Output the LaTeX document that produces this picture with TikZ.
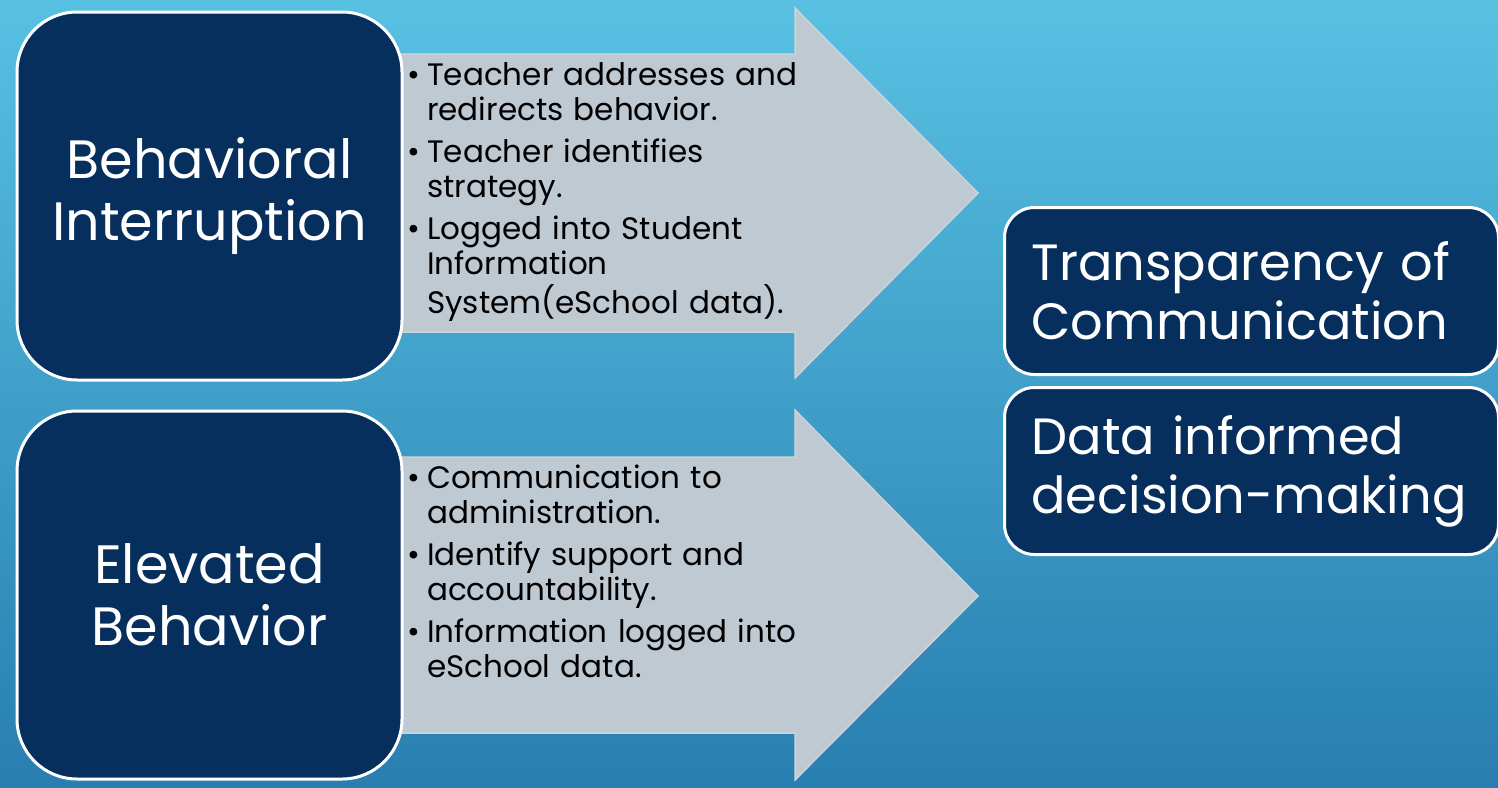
\documentclass[tikz,border=0pt]{standalone}
\usepackage{fontspec}
\setmainfont{Poppins}
\usepackage{xcolor}
\usepackage{tikz}

\definecolor{navy}{RGB}{6,47,94}
\definecolor{arrowgrey}{RGB}{191,201,210}
\definecolor{arrowedge}{RGB}{203,211,219}
\definecolor{bgtop}{RGB}{88,193,226}
\definecolor{bgbottom}{RGB}{40,126,176}

\newcommand{\point}[1]{\noindent\makebox[20pt][l]{\textbullet}\begin{tabular}[t]{@{}l@{}}#1\end{tabular}\par}

\begin{document}
\begin{tikzpicture}[x=1pt, y=-1pt,
	bigbox/.style={fill=navy, draw=white, line width=3pt, rounded corners=60pt, text=white, align=center,
		minimum width=385pt, minimum height=368pt, font=\fontsize{54}{62}\selectfont},
	smallbox/.style={fill=navy, draw=white, line width=3pt, rounded corners=30pt, text=white, align=left,
		text width=440pt, inner xsep=27pt, minimum height=167pt, anchor=north west, font=\fontsize{51}{59}\selectfont},
	bullets/.style={anchor=north west, inner sep=0pt, text width=390pt, text=black,
		font=\fontsize{31}{35}\selectfont\setlength{\parskip}{6pt}}]
	\useasboundingbox (0,0) rectangle (1498,787);
	\shade[top color=bgtop, bottom color=bgbottom] (0,0) rectangle (1498,787);

	% arrows
	\filldraw[fill=arrowgrey, draw=arrowedge, line width=1.5pt] (390,54) -- (795,54) -- (795,8) -- (978,193) -- (795,378) -- (795,332) -- (390,332) -- cycle;
	\filldraw[fill=arrowgrey, draw=arrowedge, line width=1.5pt] (390,457) -- (795,457) -- (795,410) -- (978,596) -- (795,780) -- (795,733) -- (390,733) -- cycle;

	\node[bullets] (interruptsteps) at (407,60.5) {%
		\point{Teacher addresses and\\redirects behavior.}
		\point{Teacher identifies\\strategy.}
		\point{Logged into Student\\Information\\System(eSchool data).}};
	\node[bullets] (elevatedsteps) at (407,463.5) {%
		\point{Communication to\\administration.}
		\point{Identify support and\\accountability.}
		\point{Information logged into\\eSchool data.}};

	\node[bigbox] (interrupt) at (209.5,196) {Behavioral\\Interruption};
	\node[bigbox] (elevated) at (209.5,595) {Elevated\\Behavior};

	\node[smallbox] (transparency) at (1003,206) {\mbox{Transparency of}\\\mbox{Communication}};
	\node[smallbox] (datadriven) at (1003,386) {\mbox{Data informed}\\\mbox{decision-making}};
\end{tikzpicture}
\end{document}
